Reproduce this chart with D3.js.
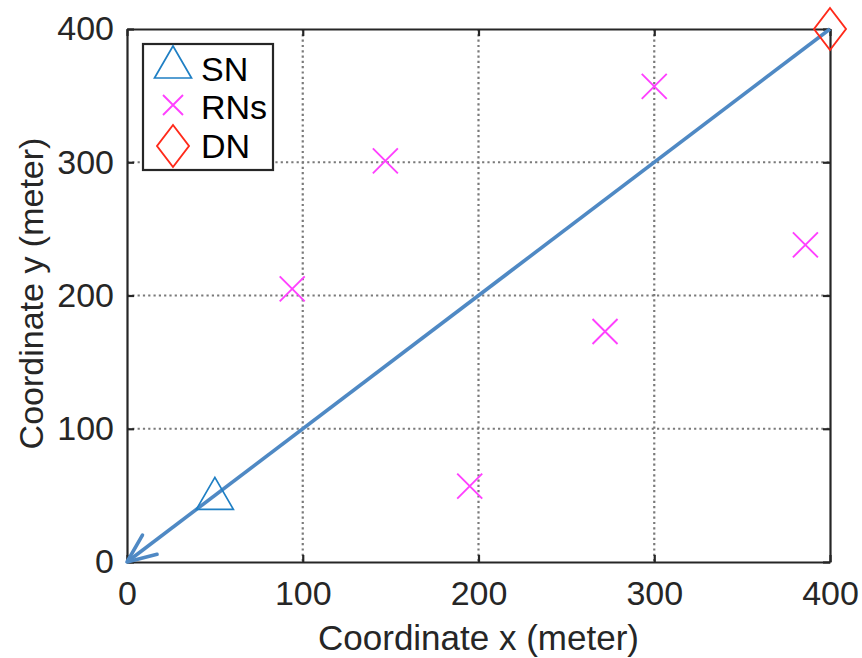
<!DOCTYPE html>
<html>
<head>
<meta charset="utf-8">
<script src="https://cdn.jsdelivr.net/npm/d3@7"></script>
<style>
  body { margin: 0; background: #fff; }
  svg { font-family: "Liberation Sans", Arial, Helvetica, sans-serif; }
</style>
</head>
<body>
<div class="chart"></div>
<script>
// 節點座標
const snPoint = [[50, 50]];
const rnPoints = [[94, 205], [147, 301], [195, 57], [272, 173], [300, 357], [386, 238]];
const dnPoint = [[400, 400]];
// 箭頭: 由 DN 指向原點
const arrowLine = [[400, 400], [0, 0]];

const xTicks = [0, 100, 200, 300, 400];
const yTicks = [0, 100, 200, 300, 400];
const legendNames = ['SN', 'RNs', 'DN'];

const width = 862, height = 658;
const margin = { left: 127, right: 32, top: 29, bottom: 96 };
const ink = '#262626';

const svg = d3.select('.chart')
  .append('svg')
  .attr('width', width)
  .attr('height', height);

const x = d3.scaleLinear().domain([0, 400]).range([margin.left, width - margin.right]);
const y = d3.scaleLinear().domain([0, 400]).range([height - margin.bottom, margin.top]);

// 格線
const grid = svg.append('g')
  .attr('stroke', '#7a7a7a')
  .attr('stroke-width', 2.2)
  .attr('stroke-dasharray', '2.2,3.1');
grid.selectAll('.gx')
  .data(xTicks.slice(1, -1))
  .join('line')
  .attr('x1', d => x(d)).attr('x2', d => x(d))
  .attr('y1', y(400)).attr('y2', y(0));
grid.selectAll('.gy')
  .data(yTicks.slice(1, -1))
  .join('line')
  .attr('y1', d => y(d)).attr('y2', d => y(d))
  .attr('x1', x(0)).attr('x2', x(400));

// 軸 (刻度朝內)
const tickLen = 7;
const xAxis = svg.append('g')
  .attr('transform', `translate(0,${y(0)})`)
  .call(d3.axisBottom(x).tickValues(xTicks).tickSizeInner(-tickLen).tickSizeOuter(0).tickPadding(19));
const yAxis = svg.append('g')
  .attr('transform', `translate(${x(0)},0)`)
  .call(d3.axisLeft(y).tickValues(yTicks).tickSizeInner(-tickLen).tickSizeOuter(0).tickPadding(13));
const xTop = svg.append('g')
  .attr('transform', `translate(0,${y(400)})`)
  .call(d3.axisTop(x).tickValues(xTicks).tickSizeInner(-tickLen).tickSizeOuter(0).tickFormat(''));
const yRight = svg.append('g')
  .attr('transform', `translate(${x(400)},0)`)
  .call(d3.axisRight(y).tickValues(yTicks).tickSizeInner(-tickLen).tickSizeOuter(0).tickFormat(''));

[xAxis, yAxis, xTop, yRight].forEach(g => {
  g.select('.domain').attr('stroke', ink).attr('stroke-width', 2.2);
  g.selectAll('.tick line').attr('stroke', ink).attr('stroke-width', 2.2);
  g.selectAll('.tick text').attr('fill', ink).style('font-size', '34px');
});
xAxis.selectAll('.tick text').attr('dy', '0.72em');

// 軸標題
svg.append('text')
  .attr('x', (x(0) + x(400)) / 2)
  .attr('y', 650)
  .attr('text-anchor', 'middle')
  .attr('fill', ink)
  .style('font-size', '35px')
  .text('Coordinate x (meter)');
svg.append('text')
  .attr('transform', `translate(43,${(y(0) + y(400)) / 2 - 2}) rotate(-90)`)
  .attr('text-anchor', 'middle')
  .attr('fill', ink)
  .style('font-size', '34px')
  .text('Coordinate y (meter)');

// 箭頭
const lineColor = '#4f89c4';
svg.append('path')
  .attr('d', d3.line().x(d => x(d[0])).y(d => y(d[1]))(arrowLine))
  .attr('stroke', lineColor)
  .attr('stroke-width', 3.6)
  .attr('fill', 'none');
const tip = arrowLine[1];
const from = arrowLine[0];
const ang = Math.atan2(y(from[1]) - y(tip[1]), x(from[0]) - x(tip[0]));
const headLen = 31, headAng = 0.4;
svg.append('path')
  .attr('d', `M${x(tip[0]) + headLen * Math.cos(ang - headAng)},${y(tip[1]) + headLen * Math.sin(ang - headAng)}`
    + `L${x(tip[0])},${y(tip[1])}`
    + `L${x(tip[0]) + headLen * Math.cos(ang + headAng)},${y(tip[1]) + headLen * Math.sin(ang + headAng)}`)
  .attr('stroke', lineColor)
  .attr('stroke-width', 3.6)
  .attr('stroke-linejoin', 'round')
  .attr('stroke-linecap', 'round')
  .attr('fill', 'none');

// 標記形狀
const triangle = (cx, cy) => `M${cx},${cy - 18}L${cx + 18.5},${cy + 14}L${cx - 18.5},${cy + 14}Z`;
const cross = (cx, cy, r) => `M${cx - r},${cy - r}L${cx + r},${cy + r}M${cx - r},${cy + r}L${cx + r},${cy - r}`;
const diamond = (cx, cy) => `M${cx},${cy - 21}L${cx + 16},${cy}L${cx},${cy + 21}L${cx - 16},${cy}Z`;

const snColor = '#1f7fc4', rnColor = '#ff40ff', dnColor = '#ff2a1a';

svg.selectAll('.sn')
  .data(snPoint)
  .join('path')
  .attr('d', d => triangle(x(d[0]), y(d[1])))
  .attr('fill', 'none').attr('stroke', snColor).attr('stroke-width', 1.7);
svg.selectAll('.rn')
  .data(rnPoints)
  .join('path')
  .attr('d', d => cross(x(d[0]), y(d[1]), 12.5))
  .attr('fill', 'none').attr('stroke', rnColor).attr('stroke-width', 1.9);
svg.selectAll('.dn')
  .data(dnPoint)
  .join('path')
  .attr('d', d => diamond(x(d[0]), y(d[1])))
  .attr('fill', 'none').attr('stroke', dnColor).attr('stroke-width', 1.9);

// 圖例
const legend = svg.append('g');
legend.append('rect')
  .attr('x', 143).attr('y', 44).attr('width', 130).attr('height', 126)
  .attr('fill', '#fff').attr('stroke', ink).attr('stroke-width', 2.2);
const rowY = [64, 105, 146];
legend.append('path').attr('d', triangle(173, rowY[0])).attr('fill', 'none').attr('stroke', snColor).attr('stroke-width', 1.7);
legend.append('path').attr('d', cross(173, rowY[1], 10)).attr('fill', 'none').attr('stroke', rnColor).attr('stroke-width', 1.9);
legend.append('path').attr('d', diamond(173, rowY[2])).attr('fill', 'none').attr('stroke', dnColor).attr('stroke-width', 1.9);
legend.selectAll('.lt')
  .data(legendNames)
  .join('text')
  .attr('x', 201)
  .attr('y', (d, i) => [81, 119, 158][i])
  .attr('fill', '#000')
  .style('font-size', '34px')
  .text(d => d);
</script>
</body>
</html>
